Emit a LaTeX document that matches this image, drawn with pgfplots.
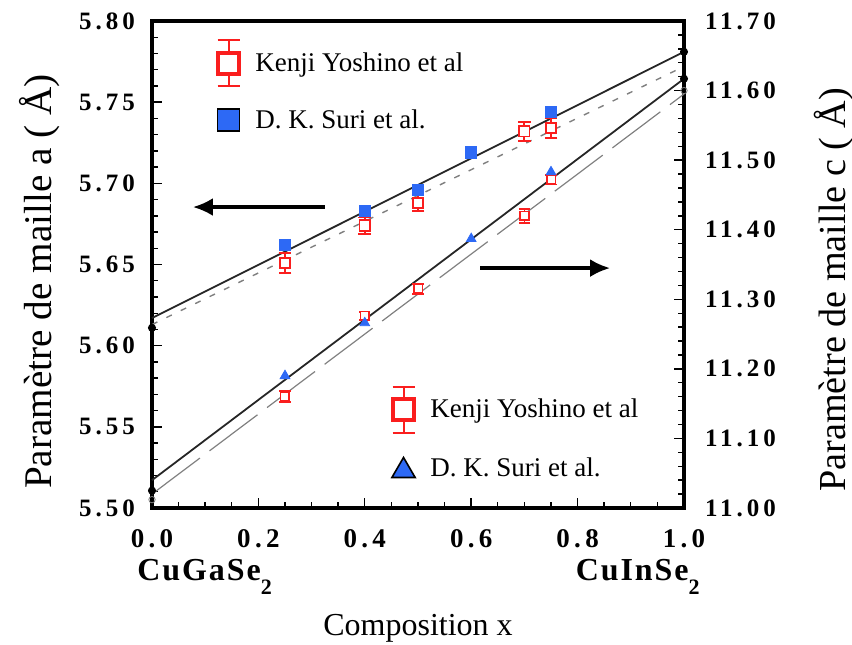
\documentclass[border=0pt]{standalone}
\usepackage{pgfplots}
\pgfplotsset{compat=1.18}
\usepackage{fontspec}
\setmainfont{Liberation Serif}
\newfontfamily\tickfont[LetterSpace=16]{Liberation Serif}
\newfontfamily\chemfont[LetterSpace=6]{Liberation Serif}
\usetikzlibrary{arrows.meta}

\definecolor{kred}{RGB}{250,30,30}
\definecolor{kblue}{RGB}{45,105,245}

\newcommand{\tf}{\tickfont\bfseries\fontsize{12.5}{12.5}\selectfont}
\newcommand{\xtf}{\tickfont\bfseries\fontsize{13.5}{13.5}\selectfont}

\pgfplotsset{
  common/.style={
    at={(0,0)}, anchor=south west,
    scale only axis, width=266pt, height=243.5pt,
    xmin=0, xmax=1, clip=false,
    axis line style={line width=1.6pt},
    every tick/.style={black, line width=0.7pt},
    major tick length=5pt, minor tick length=2.8pt,
    tick align=inside,
    /pgf/number format/assume math mode=true,
    legend cell align=left,
  },
}

\begin{document}
\begin{tikzpicture}
\useasboundingbox (-76pt,-68pt) rectangle (350pt,254pt);

% lattice parameter a
\begin{axis}[common,
  ymin=5.5, ymax=5.8,
  xtick={0,0.2,...,1.0}, minor x tick num=3,
  ytick={5.50,5.55,...,5.80}, minor y tick num=4,
  xtick pos=bottom, ytick pos=left,
  xticklabel style={font=\xtf, yshift=-7pt, /pgf/number format/.cd, fixed, fixed zerofill, precision=1},
  yticklabel style={font=\tf, xshift=-5pt, /pgf/number format/.cd, fixed, fixed zerofill, precision=2},
  xlabel={Composition x},
  every axis x label/.style={at={(rel axis cs:0.5,0)}, yshift=-60pt, anchor=center, font=\fontsize{16}{16}\selectfont},
  ylabel={Paramètre de maille a ( Å)},
  every axis y label/.style={at={(rel axis cs:0,0.465)}, xshift=-56pt, rotate=90, anchor=center, font=\fontsize{19.6}{19.6}\selectfont},
  legend style={draw=none, fill=none, at={(0.119,0.864)}, anchor=west,
    row sep=9pt, column sep=5pt, font=\fontsize{13.5}{15}\selectfont, inner sep=0pt, nodes={inner sep=2pt}},
]
\addplot[black!85, line width=0.9pt, forget plot] coordinates {(0,5.617) (1,5.781)};
\addplot[gray, line width=0.7pt, dash pattern=on 3pt off 5pt, forget plot] coordinates {(0,5.613) (1,5.772)};
\addplot[only marks, mark=*, mark size=1.8pt, black, forget plot] coordinates {(0,5.611) (1,5.781)};

\addplot[legend image code/.code={
    \draw[kred, line width=1pt] (0.3cm,-11.5pt) -- (0.3cm,11.5pt);
    \draw[kred, line width=1pt] (0.3cm-5.5pt,-11.5pt) -- (0.3cm+5.5pt,-11.5pt);
    \draw[kred, line width=1pt] (0.3cm-5.5pt,11.5pt) -- (0.3cm+5.5pt,11.5pt);
    \draw[kred, line width=2.2pt, fill=white] (0.3cm-5.3pt,-5.3pt) rectangle (0.3cm+5.3pt,5.3pt);},
  only marks, mark=square*, mark size=2.6pt,
  mark options={draw=kred, fill=white, line width=0.9pt},
  error bars/.cd, y dir=both, y explicit,
  error bar style={kred, line width=0.9pt},
  error mark options={kred, rotate=90, mark size=3.2pt, line width=0.9pt}]
coordinates {
  (0.25,5.651) +- (0,0.006)
  (0.40,5.674) +- (0,0.005)
  (0.50,5.688) +- (0,0.005)
  (0.70,5.732) +- (0,0.006)
  (0.75,5.734) +- (0,0.006)
};
\addlegendentry{Kenji Yoshino et al}

\addplot[legend image code/.code={
    \draw[black, line width=0.8pt, fill=kblue] (0.3cm-5.5pt,-5.5pt) rectangle (0.3cm+5.5pt,5.5pt);},
  only marks, mark=square*, mark size=2.8pt,
  mark options={draw=kblue, fill=kblue}]
coordinates {(0.25,5.662) (0.40,5.683) (0.50,5.696) (0.60,5.719) (0.75,5.744)};
\addlegendentry{D. K. Suri et al.}

\draw[-{Latex[length=10pt,width=9pt]}, line width=1.6pt] (axis cs:0.325,5.6854) -- (axis cs:0.077,5.6854);
\draw[-{Latex[length=10pt,width=9pt]}, line width=1.6pt] (axis cs:0.617,5.6478) -- (axis cs:0.861,5.6478);

\node[font=\chemfont\bfseries\fontsize{16}{16}\selectfont, anchor=west, inner sep=0pt] at ([xshift=-7.5pt,yshift=-34.5pt]rel axis cs:0,0) {CuGaSe\raisebox{-7pt}{\fontsize{11}{11}\selectfont 2}};
\node[font=\chemfont\bfseries\fontsize{16}{16}\selectfont, anchor=east, inner sep=0pt] at ([xshift=8pt,yshift=-34.5pt]rel axis cs:1,0) {CuInSe\raisebox{-7pt}{\fontsize{11}{11}\selectfont 2}};
\end{axis}

% lattice parameter c
\begin{axis}[common,
  ymin=11.0, ymax=11.7,
  hide x axis,
  axis y line*=right,
  ytick={11.0,11.1,...,11.7}, minor y tick num=4,
  yticklabel style={font=\tf, xshift=7pt, /pgf/number format/.cd, fixed, fixed zerofill, precision=2},
  ylabel={Paramètre de maille c ( Å)},
  every axis y label/.style={at={(rel axis cs:1,0.448)}, xshift=75pt, rotate=90, anchor=center, font=\fontsize{19.1}{19.1}\selectfont},
  legend style={draw=none, fill=none, at={(0.448,0.151)}, anchor=west,
    row sep=10pt, column sep=5pt, font=\fontsize{13.5}{15}\selectfont, inner sep=0pt, nodes={inner sep=2pt}},
]
\addplot[black!85, line width=0.9pt, forget plot] coordinates {(0,11.040) (1,11.617)};
\addplot[gray, line width=0.6pt, dash pattern=on 30pt off 6pt, forget plot] coordinates {(0,11.020) (1,11.595)};
\addplot[only marks, mark=*, mark size=1.8pt, black, forget plot] coordinates {(0,11.025) (1,11.617)};
\addplot[only marks, mark=o, mark size=1.6pt, gray, fill=white, forget plot] coordinates {(0,11.012) (1,11.600)};

\addplot[legend image code/.code={
    \draw[kred, line width=1pt] (0.3cm,-11.5pt) -- (0.3cm,11.5pt);
    \draw[kred, line width=1pt] (0.3cm-5.5pt,-11.5pt) -- (0.3cm+5.5pt,-11.5pt);
    \draw[kred, line width=1pt] (0.3cm-5.5pt,11.5pt) -- (0.3cm+5.5pt,11.5pt);
    \draw[kred, line width=2.2pt, fill=white] (0.3cm-5.3pt,-5.3pt) rectangle (0.3cm+5.3pt,5.3pt);},
  only marks, mark=square*, mark size=2.2pt,
  mark options={draw=kred, fill=white, line width=0.9pt},
  error bars/.cd, y dir=both, y explicit,
  error bar style={kred, line width=0.9pt},
  error mark options={kred, rotate=90, mark size=2.8pt, line width=0.9pt}]
coordinates {
  (0.25,11.160) +- (0,0.008)
  (0.40,11.276) +- (0,0.006)
  (0.50,11.315) +- (0,0.007)
  (0.70,11.420) +- (0,0.010)
  (0.75,11.472) +- (0,0.007)
};
\addlegendentry{Kenji Yoshino et al}

\addplot[legend image code/.code={
    \draw[black, line width=0.8pt, fill=kblue] (0.3cm-5.8pt,-4.5pt) -- (0.3cm+5.8pt,-4.5pt) -- (0.3cm,5.5pt) -- cycle;},
  only marks, mark=triangle*, mark size=2.8pt,
  mark options={draw=kblue, fill=kblue}]
coordinates {(0.25,11.190) (0.40,11.266) (0.60,11.387) (0.75,11.483)};
\addlegendentry{D. K. Suri et al.}
\end{axis}
\end{tikzpicture}
\end{document}
